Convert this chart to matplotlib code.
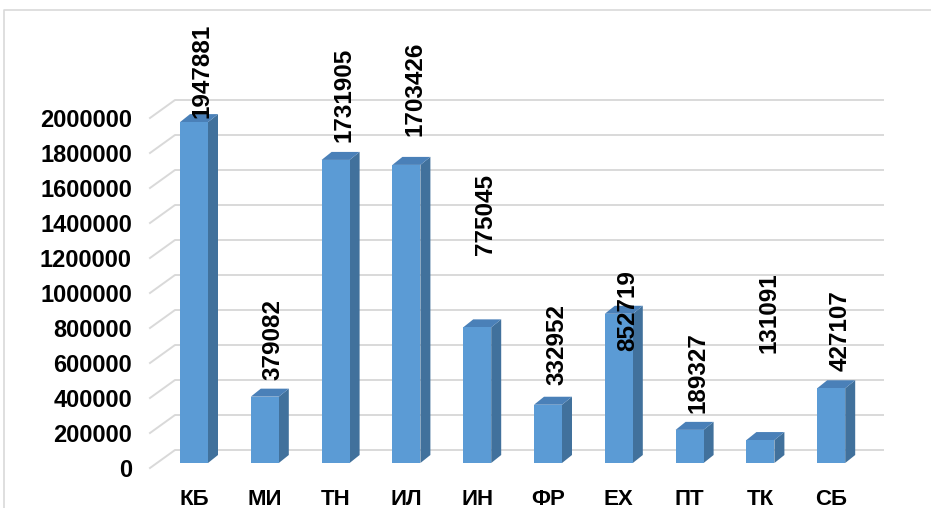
import matplotlib
matplotlib.use("Agg")
import matplotlib.pyplot as plt
from matplotlib.patches import Polygon
from matplotlib.lines import Line2D

# data
categories = ['КБ', 'МИ', 'ТН', 'ИЛ', 'ИН', 'ФР', 'ЕХ', 'ПТ', 'ТК', 'СБ']
values = [1947881, 379082, 1731905, 1703426, 775045,
          332952, 852719, 189327, 131091, 427107]
yticks = list(range(0, 2000001, 200000))

# where Excel dropped the value labels (bottom of the rotated text)
label_base = [2000000, 500000, 1862857, 1897143, 1217143,
              474286, 668571, 314286, 657143, 554286]

plt.rcParams['font.family'] = ['Liberation Sans', 'DejaVu Sans']

W, H = 931, 508
fig = plt.figure(figsize=(W / 100, H / 100), dpi=100)

# pixel geometry of the pseudo-3d plot
px_cat = 70.8            # pixels between categories
x0_px = 194              # front centre of first bar
y0_px = 468              # front floor line for 0
px_val = 350 / 2000000   # pixels per unit
left_px, right_px, top_px = 150, 890, 20

ax = fig.add_axes([left_px / W, (H - y0_px) / H,
                   (right_px - left_px) / W, (y0_px - top_px) / H])
xmin = (left_px - x0_px) / px_cat
xmax = (right_px - x0_px) / px_cat
ax.set_xlim(xmin, xmax)
ax.set_ylim(0, (y0_px - top_px) / px_val)
for s in ax.spines.values():
    s.set_visible(False)

# walls: diagonal on side wall, horizontal on back wall
wall_dx = 25 / px_cat
wall_dy = 18 / px_val
back_right = (883 - x0_px) / px_cat
for v in yticks:
    ax.plot([xmin, xmin + wall_dx, back_right],
            [v, v + wall_dy, v + wall_dy],
            color='#d9d9d9', lw=1.4, zorder=1, clip_on=False)

# bars
bw = 28 / px_cat
bdx = 10 / px_cat
bdy = 8 / px_val
base = 5 / px_val
for i, v in enumerate(values):
    xl = i - bw / 2
    xr = i + bw / 2
    top = v + base
    side = Polygon([(xr, base), (xr, top), (xr + bdx, top + bdy), (xr + bdx, base + bdy)],
                   closed=True, facecolor='#41719c', edgecolor='none', zorder=3)
    cap = Polygon([(xl, top), (xr, top), (xr + bdx, top + bdy), (xl + bdx, top + bdy)],
                  closed=True, facecolor='#4a80b8', edgecolor='none', zorder=3)
    front = Polygon([(xl, base), (xr, base), (xr, top), (xl, top)],
                    closed=True, facecolor='#5b9bd5', edgecolor='none', zorder=4)
    ax.add_patch(side)
    ax.add_patch(cap)
    ax.add_patch(front)
    ax.text(i + 0.12, label_base[i], str(v), rotation=90, ha='center', va='bottom',
            fontsize=17.5, fontweight='bold', color='black', zorder=6, clip_on=False)

ax.set_yticks(yticks)
ax.set_yticklabels([str(t) for t in yticks], fontsize=17, fontweight='bold')
ax.set_xticks(range(len(categories)))
ax.set_xticklabels(categories, fontsize=16, fontweight='bold')
ax.tick_params(axis='y', length=0, pad=13)
ax.tick_params(axis='x', length=0, pad=15)

# chart frame
fig.add_artist(Line2D([4 / W, 4 / W, 1], [0, 1 - 10 / H, 1 - 10 / H],
                      color='#d9d9d9', lw=1.2))

fig.savefig('out.png', dpi=100)
